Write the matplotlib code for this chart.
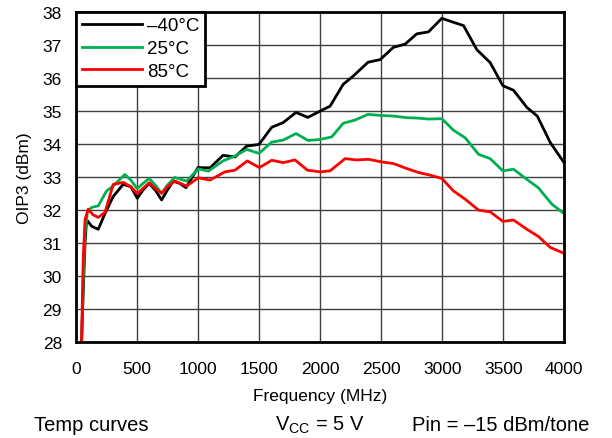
import matplotlib
matplotlib.use("Agg")
import matplotlib.pyplot as plt

plt.rcParams['font.family'] = ['Liberation Sans', 'DejaVu Sans']

# frequency in MHz, OIP3 in dBm
freq_m40 = [45, 60, 75, 88, 130, 183, 240, 305, 387, 450, 503, 550, 600, 650, 702, 750, 797,
            850, 902, 1000, 1098, 1205, 1303, 1399, 1500, 1604, 1697, 1803, 1900, 2000, 2082,
            2189, 2271, 2393, 2492, 2600, 2697, 2792, 2888, 2997, 3093, 3175, 3284, 3393, 3497,
            3585, 3694, 3779, 3885, 4000]
oip3_m40 = [27.8, 29.5, 31.0, 31.7, 31.5, 31.41, 31.9, 32.4, 32.77, 32.7, 32.35, 32.6, 32.8,
            32.6, 32.3, 32.6, 32.87, 32.8, 32.67, 33.28, 33.27, 33.65, 33.6, 33.93, 33.98, 34.5,
            34.64, 34.95, 34.8, 34.99, 35.14, 35.8, 36.05, 36.47, 36.55, 36.92, 37.02, 37.33,
            37.39, 37.8, 37.68, 37.58, 36.85, 36.46, 35.76, 35.62, 35.1, 34.84, 34.04, 33.42]

freq_25 = [45, 60, 75, 95, 128, 183, 251, 305, 401, 450, 503, 550, 600, 650, 702, 750, 811,
           907, 1003, 1085, 1205, 1303, 1399, 1500, 1604, 1697, 1803, 1902, 2000, 2096, 2189,
           2287, 2393, 2492, 2600, 2711, 2792, 2888, 2997, 3093, 3189, 3298, 3393, 3497, 3585,
           3694, 3787, 3899, 4000]
oip3_25 = [27.8, 29.8, 31.3, 31.95, 32.07, 32.12, 32.57, 32.72, 33.07, 32.9, 32.64, 32.8, 32.95,
           32.75, 32.5, 32.75, 32.98, 32.87, 33.24, 33.17, 33.48, 33.63, 33.83, 33.71, 34.05,
           34.11, 34.31, 34.1, 34.13, 34.21, 34.62, 34.72, 34.89, 34.86, 34.84, 34.79, 34.78,
           34.75, 34.76, 34.41, 34.18, 33.68, 33.55, 33.18, 33.23, 32.92, 32.67, 32.17, 31.88]

freq_85 = [45, 60, 75, 100, 140, 183, 238, 306, 388, 450, 503, 550, 601, 650, 702, 750, 811,
           907, 1003, 1098, 1221, 1303, 1404, 1503, 1604, 1699, 1795, 1896, 2000, 2082, 2205,
           2300, 2396, 2505, 2601, 2710, 2806, 2902, 2997, 3093, 3189, 3298, 3393, 3497, 3585,
           3694, 3789, 3885, 4000]
oip3_85 = [27.8, 30.5, 31.7, 32.02, 31.85, 31.77, 31.92, 32.77, 32.83, 32.7, 32.49, 32.65, 32.82,
           32.65, 32.5, 32.7, 32.87, 32.72, 32.97, 32.9, 33.15, 33.2, 33.48, 33.28, 33.5, 33.43,
           33.51, 33.2, 33.15, 33.18, 33.55, 33.51, 33.53, 33.45, 33.4, 33.25, 33.13, 33.05,
           32.95, 32.57, 32.32, 31.99, 31.94, 31.65, 31.69, 31.41, 31.19, 30.86, 30.68]

fig = plt.figure(figsize=(6.12, 4.39), dpi=100)
ax = fig.add_axes([0.124, 0.219, 0.798, 0.752])

ax.plot(freq_m40, oip3_m40, color='black', lw=2, label='\u201340\u00b0C')
ax.plot(freq_25, oip3_25, color='#00b050', lw=2, label='25\u00b0C')
ax.plot(freq_85, oip3_85, color='#ff0000', lw=2, label='85\u00b0C')

ax.set_xlim(0, 4000)
ax.set_ylim(28, 38)
ax.set_xticks(range(0, 4001, 500))
ax.set_yticks(range(28, 39))
ax.grid(True, color='#404040', lw=1)
ax.set_axisbelow(True)
ax.tick_params(length=0, labelsize=12.5)
ax.tick_params(axis='x', pad=13.5)
ax.tick_params(axis='y', pad=10)
for s in ax.spines.values():
    s.set_linewidth(2)
ax.set_xlabel('Frequency (MHz)', fontsize=12.5, labelpad=9)
ax.set_ylabel('OIP3 (dBm)', fontsize=12.5, labelpad=8)

leg = ax.legend(loc='upper left', fontsize=13.5, handlelength=3.2, borderaxespad=0,
                fancybox=False, framealpha=1, edgecolor='black', borderpad=0.3,
                labelspacing=0.3, handletextpad=0.3)
leg.get_frame().set_linewidth(2)

fig.text(0.0556, 0.018, 'Temp curves', fontsize=14.5, va='baseline')
fig.text(0.449, 0.018, r'V$_\mathregular{CC}$ = 5 V', fontsize=14.5, va='baseline')
fig.text(0.674, 0.018, 'Pin = \u201315 dBm/tone', fontsize=14.5, va='baseline')

fig.savefig('out.png', dpi=100)
